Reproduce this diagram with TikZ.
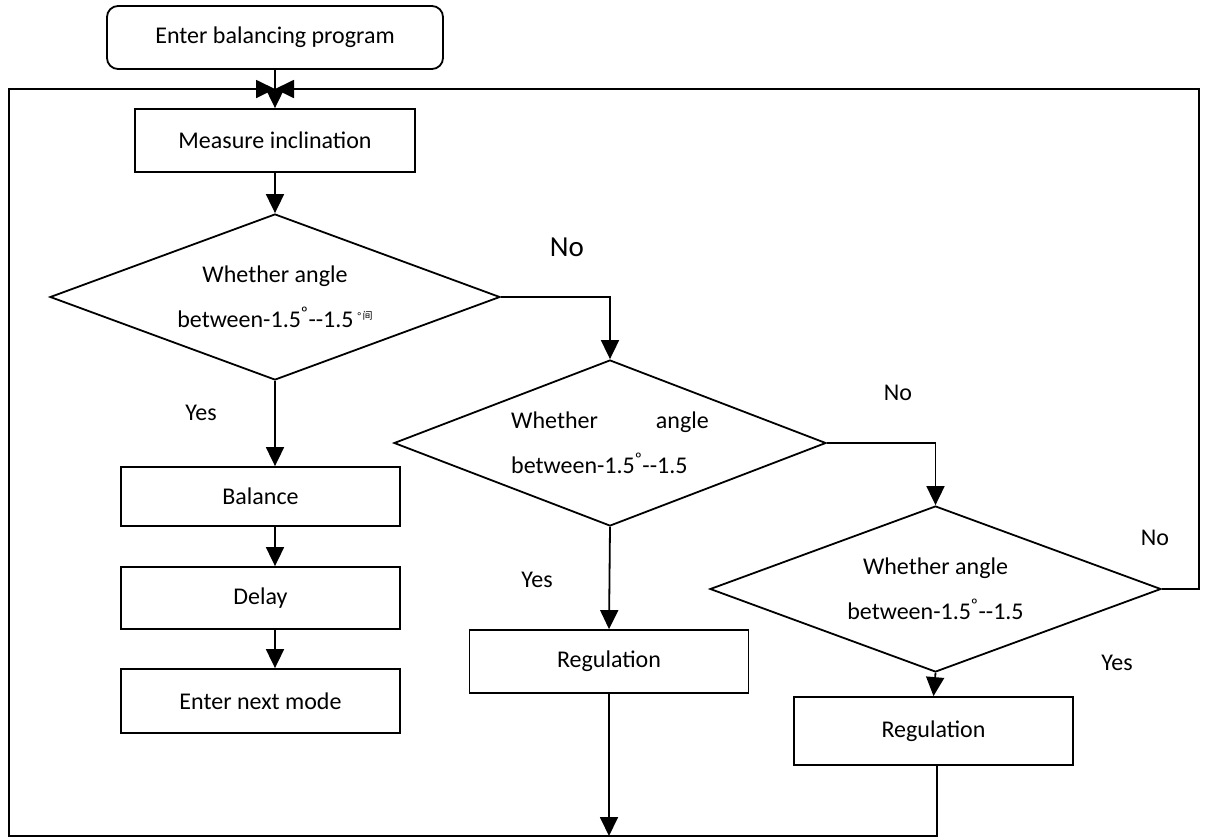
\documentclass[tikz,border=0pt]{standalone}
\usepackage{fontspec}
\setmainfont{Carlito}
\newfontfamily\cjk{Noto Sans CJK SC}
\usetikzlibrary{shapes.geometric,arrows.meta}
\begin{document}
\begin{tikzpicture}[x=1pt,y=-1pt,
  every node/.style={font=\fontsize{24}{28}\selectfont},
  flow/.style={line width=1.8pt,-{Triangle[length=19pt,width=18pt]}},
  procbox/.style={draw,line width=1.8pt,minimum width=279pt,inner sep=0pt},
  startbox/.style={draw,line width=1.8pt,rounded corners=11pt,minimum width=336pt,minimum height=63pt,inner sep=0pt},
  decision/.style={draw,diamond,line width=1.8pt,inner sep=0pt,aspect=2.7,
    font=\fontsize{24}{45}\selectfont},
  tag/.style={inner sep=0pt}
]
\useasboundingbox (0,0) rectangle (1213,839);

% boxes
\node[startbox] (start) at (275,37.5) {Enter balancing program};
\coordinate (J) at (275,89);
\node[procbox,minimum width=280pt,minimum height=63pt] (measure) at (275,140.5) {Measure inclination};
\node[decision,minimum width=450pt,minimum height=166pt,align=center] (d1) at (275,297)
  {Whether angle\\between-1.5\textsuperscript{º}-{}-1.5\,\raisebox{8pt}{\fontsize{10}{10}\selectfont °\,\cjk 间}};
\node[procbox,minimum height=59pt] (balance) at (260.5,496.5) {Balance};
\node[procbox,minimum height=62pt] (delay) at (260.5,598) {Delay};
\node[procbox,minimum height=64pt] (next) at (260.5,701) {Enter next mode};

\node[decision,minimum width=432pt,minimum height=166pt,align=left] (d2) at (610,443)
  {Whether\hspace{58pt}angle\\between-1.5\textsuperscript{º}-{}-1.5};
\node[procbox,minimum height=63pt] (reg1) at (609,661.5) {Regulation};

\node[decision,minimum width=451pt,minimum height=166pt,align=center] (d3) at (935.5,589)
  {Whether angle\\between-1.5\textsuperscript{º}-{}-1.5};
\node[procbox,minimum height=68pt] (reg2) at (933.5,731) {Regulation};

% loop frame corners
\coordinate (TL) at (9,89);
\coordinate (BL) at (9,836);
\coordinate (TR) at (1199,89);
\coordinate (BR) at (1199,589);
\coordinate (B1) at (609,836);
\coordinate (B2) at (937,836);

% connectors
\draw[flow] (start.south) -- (measure.north);
\draw[flow] (measure.south) -- (d1.north);
\draw[flow] (d1.east) -- (d1.east -| d2.north) -- (d2.north);
\draw[flow] (d1.south) -- (d1.south |- balance.north);
\draw[flow] (d1.south |- balance.south) -- (d1.south |- delay.north);
\draw[flow] (d1.south |- delay.south) -- (d1.south |- next.north);
\draw[flow] (d2.east) -- (d2.east -| d3.north) -- (d3.north);
\draw[flow] (d2.south) -- (reg1.north);
\draw[flow] (d3.south) -- (reg2.north);
\draw[flow] (reg1.south) -- (B1);
\draw[flow] (reg2.south -| B2) -- (B2) -- (BL) -- (TL) -- (J);
\draw[flow] (d3.east) -- (BR) -- (TR) -- (J);

% branch labels
\node[tag,font=\fontsize{29}{33}\selectfont] (no1) at (567,247) {No};
\node[tag] (yes1) at (201,413) {Yes};
\node[tag] (no2) at (898,393) {No};
\node[tag] (yes2) at (537,580) {Yes};
\node[tag] (no3) at (1155,538) {No};
\node[tag] (yes3) at (1117,663) {Yes};
\end{tikzpicture}
\end{document}
